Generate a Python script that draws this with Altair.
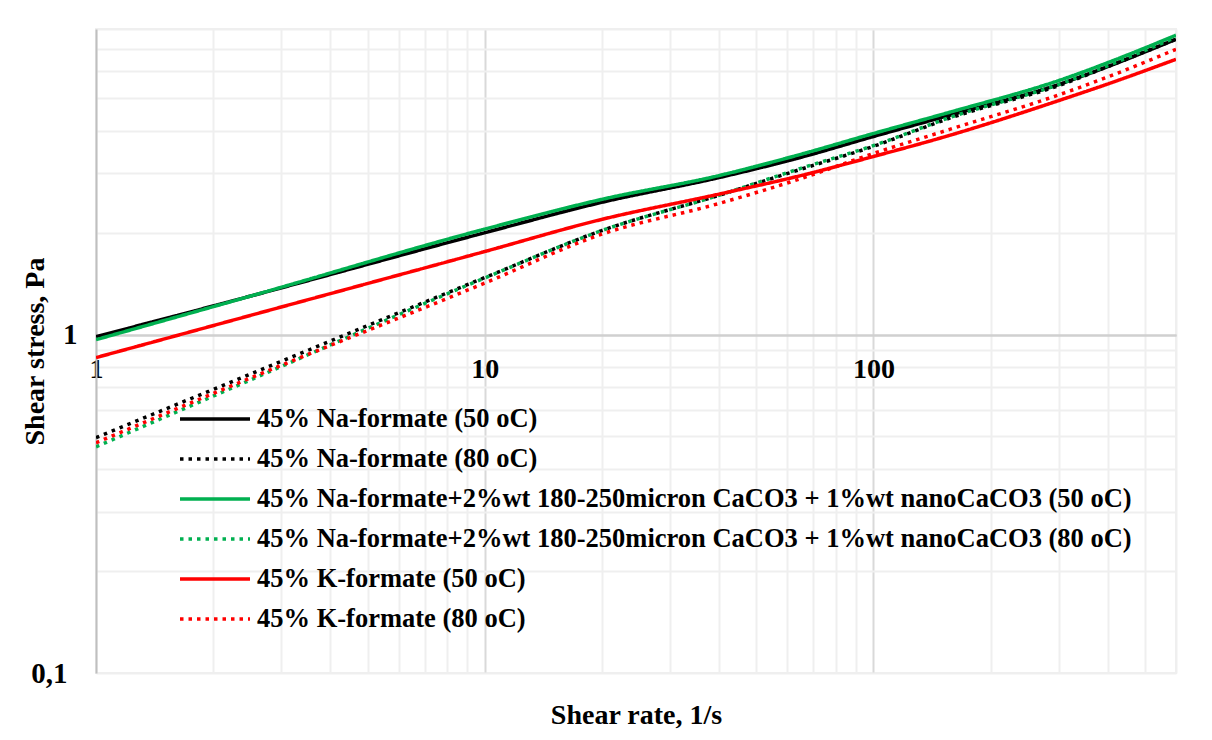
import altair as alt
import pandas as pd

# Shear rate values (1/s) where curves were read
shear_rate = [1, 2.5, 10, 20, 40, 65, 100, 157, 310, 400, 600]

na50 = [0.986, 1.30, 2.00, 2.46, 2.91, 3.34, 3.85, 4.45, 5.56, 6.19, 7.46]
na80 = [0.496, 0.765, 1.474, 2.03, 2.58, 3.08, 3.60, 4.36, 5.52, 6.19, 7.46]
naca50 = [0.966, 1.30, 2.05, 2.51, 2.95, 3.41, 3.93, 4.54, 5.71, 6.36, 7.67]
naca80 = [0.466, 0.735, 1.47, 2.03, 2.58, 3.10, 3.62, 4.38, 5.56, 6.23, 7.56]
k50 = [0.855, 1.14, 1.76, 2.19, 2.60, 2.95, 3.36, 3.88, 4.98, 5.50, 6.51]
k80 = [0.479, 0.745, 1.42, 1.98, 2.44, 2.89, 3.43, 4.04, 5.18, 5.77, 6.97]

series_names = [
    "45% Na-formate (50 oC)",
    "45% Na-formate (80 oC)",
    "45% Na-formate+2%wt 180-250micron CaCO3 + 1%wt nanoCaCO3 (50 oC)",
    "45% Na-formate+2%wt 180-250micron CaCO3 + 1%wt nanoCaCO3 (80 oC)",
    "45% K-formate (50 oC)",
    "45% K-formate (80 oC)",
]
series_values = [na50, na80, naca50, naca80, k50, k80]
series_colors = ["#000000", "#000000", "#00b050", "#00b050", "#ff0000", "#ff0000"]
series_dash = [[1, 0], [3.5, 5], [1, 0], [3.5, 5], [1, 0], [3.5, 5]]

x_grid = [1, 2, 3, 4, 5, 6, 7, 8, 9, 10, 20, 30, 40, 50, 60, 70, 80, 90,
          100, 200, 300, 400, 500, 600]
y_grid = [0.1, 0.2, 0.3, 0.4, 0.5, 0.6, 0.7, 0.8, 0.9, 1, 2, 3, 4, 5, 6, 7, 8]

rows = []
for i, (name, vals) in enumerate(zip(series_names, series_values)):
    for x, y in zip(shear_rate, vals):
        rows.append({"series": name, "order": i, "x": x, "y": y})
df = pd.DataFrame(rows)

FONT = "Liberation Serif"

x_axis = alt.Axis(
    values=x_grid,
    labelExpr="(datum.value == 1 || datum.value == 10 || datum.value == 100) ? datum.label : ''",
    format="d",
    offset=-338,
    ticks=False,
    labelFlush=False,
    labelOverlap=False,
    labelPadding=20,
    labelFont=FONT, labelFontSize=28, labelFontWeight="bold", labelColor="#000000",
    domainColor="#d0d0d0", domainWidth=2,
    gridColor={"condition": {"test": "datum.value == 10 || datum.value == 100", "value": "#d9d9d9"}, "value": "#efefef"},
    gridWidth=2,
    title="Shear rate, 1/s",
    titleFont=FONT, titleFontSize=28, titleFontWeight="bold", titleColor="#000000",
    titleX=540, titleY=380, titleBaseline="middle", titleAlign="center",
)

y_axis = alt.Axis(
    values=y_grid,
    labelExpr="datum.value == 1 ? '1' : (abs(datum.value - 0.1) < 1e-9 ? '0,1' : '')",
    ticks=False,
    labelFlush=False,
    labelOverlap=False,
    labelPadding={"condition": {"test": "datum.value == 1", "value": 19}, "value": 29},
    labelBaseline="middle",
    labelFont=FONT, labelFontSize=29, labelFontWeight="bold", labelColor="#000000",
    domainColor="#bfbfbf", domainWidth=2,
    gridColor={"condition": {"test": "datum.value == 1", "value": "#d0d0d0"}, "value": "#efefef"},
    gridWidth=2,
    title="Shear stress, Pa",
    titleFont=FONT, titleFontSize=28, titleFontWeight="bold", titleColor="#000000",
    titleX=-61, titleY=322, titleBaseline="middle", titleAlign="center", titleAngle=-90,
)

legend = alt.Legend(
    title=None,
    orient="none",
    legendX=97,
    legendY=368,
    symbolType="M-1.75,0L1.75,0",
    symbolSize=1600,
    symbolStrokeWidth=3.5,
    labelFont=FONT, labelFontSize=26.5, labelFontWeight="bold", labelColor="#000000",
    labelOffset=20,
    labelLimit=1200,
    rowPadding=4,
    padding=0,
)

chart = alt.Chart(df).mark_line(strokeWidth=3.5, interpolate="monotone", clip=True).encode(
    x=alt.X("x:Q", scale=alt.Scale(type="log", domain=[1, 600], nice=False), axis=x_axis),
    y=alt.Y("y:Q", scale=alt.Scale(type="log", domain=[0.1, 8], nice=False), axis=y_axis),
    color=alt.Color("series:N", scale=alt.Scale(domain=series_names, range=series_colors), legend=legend),
    strokeDash=alt.StrokeDash("series:N", scale=alt.Scale(domain=series_names, range=series_dash), legend=legend),
    order=alt.Order("order:Q"),
    detail="series:N",
).properties(
    width=1080,
    height=644,
    autosize=alt.AutoSizeParams(type="none"),
    padding={"left": 96, "top": 29, "right": 36, "bottom": 67},
    background="white",
).configure_view(
    stroke="#efefef",
    strokeWidth=2,
)

chart.save("out.html", embed_options={"renderer": "svg", "actions": False})
